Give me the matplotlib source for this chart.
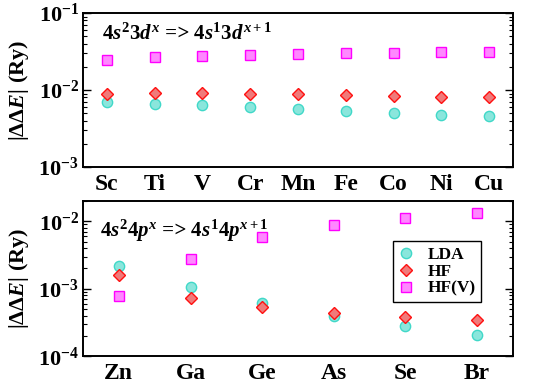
import matplotlib
matplotlib.use("Agg")
import matplotlib.pyplot as plt
from matplotlib.ticker import LogLocator, LogFormatterMathtext, NullFormatter

plt.rcParams['font.family'] = ['Liberation Serif', 'DejaVu Serif']
plt.rcParams['font.weight'] = 'bold'
plt.rcParams['mathtext.fontset'] = 'custom'
plt.rcParams['mathtext.rm'] = 'Liberation Serif:bold'
plt.rcParams['mathtext.bf'] = 'Liberation Serif:bold'
plt.rcParams['mathtext.it'] = 'Liberation Serif:italic:bold'

# 3d transition metals
elements_3d = ["Sc", "Ti", "V", "Cr", "Mn", "Fe", "Co", "Ni", "Cu"]
lda_3d = [0.0069, 0.00664, 0.00632, 0.00595, 0.00566, 0.00533, 0.00502, 0.00473, 0.00455]
hf_3d = [0.00879, 0.00923, 0.0091, 0.00896, 0.0088, 0.0086, 0.00844, 0.0082, 0.0080]
hfv_3d = [0.0243, 0.0266, 0.0279, 0.0285, 0.0296, 0.0303, 0.0303, 0.0309, 0.0312]

# 4p elements
elements_4p = ["Zn", "Ga", "Ge", "As", "Se", "Br"]
lda_4p = [2.16e-3, 1.047e-3, 6.25e-4, 3.9e-4, 2.8e-4, 2.06e-4]
hf_4p = [1.585e-3, 7.26e-4, 5.45e-4, 4.38e-4, 3.78e-4, 3.44e-4]
hfv_4p = [7.9e-4, 2.72e-3, 5.82e-3, 8.8e-3, 1.135e-2, 1.35e-2]

styles = {
    "LDA": dict(marker='o', ms=7.4, mfc='#8ae6dc', mec='#40d8c8', mew=1.0),
    "HF": dict(marker='D', ms=6.6, mfc='#f07a7a', mec='#ff1010', mew=1.0),
    "HF(V)": dict(marker='s', ms=6.8, mfc='#ff88ff', mec='#ff00ff', mew=1.0),
}

fig = plt.figure(figsize=(5.34, 3.88), dpi=100)
ax1 = fig.add_axes([83 / 534, 1 - 167 / 388, 430 / 534, 154 / 388])
ax2 = fig.add_axes([83 / 534, 1 - 356.3 / 388, 430 / 534, 155.3 / 388])


def style_axis(ax, labels, ylim):
    x = list(range(1, len(labels) + 1))
    ax.set_yscale('log')
    ax.set_ylim(*ylim)
    ax.set_xlim(0.5, len(labels) + 0.5)
    ax.set_xticks(x)
    ax.set_xticklabels(labels, fontsize=17, fontweight='bold')
    ax.tick_params(axis='x', length=0, pad=5)
    ax.yaxis.set_major_locator(LogLocator(base=10))
    ax.yaxis.set_major_formatter(LogFormatterMathtext())
    ax.yaxis.set_minor_locator(LogLocator(base=10, subs=range(2, 10)))
    ax.yaxis.set_minor_formatter(NullFormatter())
    ax.tick_params(axis='y', which='major', direction='in', length=6, width=1.0,
                   left=True, right=True, labelsize=16, pad=3)
    ax.tick_params(axis='y', which='minor', direction='in', length=3, width=0.8,
                   left=True, right=True)
    for s in ax.spines.values():
        s.set_linewidth(1.4)
    ax.set_ylabel(r'|ΔΔ$\mathit{E}$| (Ry)', fontsize=16, fontweight='bold')
    ax.yaxis.set_label_coords(-0.122, 0.5)
    return x


x1 = style_axis(ax1, elements_3d, (1e-3, 1e-1))
ax1.plot(x1, lda_3d, ls='none', label='LDA', **styles["LDA"])
ax1.plot(x1, hf_3d, ls='none', label='HF', **styles["HF"])
ax1.plot(x1, hfv_3d, ls='none', label='HF(V)', **styles["HF(V)"])
ax1.text(0.045, 0.825, r'$\mathit{4s^{2}3d^{x}}$ => $\mathit{4s^{1}3d^{x+1}}$',
         transform=ax1.transAxes, fontsize=15, fontstyle='italic', fontweight='bold',
         va='baseline', ha='left')

x2 = style_axis(ax2, elements_4p, (1e-4, 2e-2))
ax2.plot(x2, lda_4p, ls='none', label='LDA', **styles["LDA"])
ax2.plot(x2, hf_4p, ls='none', label='HF', **styles["HF"])
ax2.plot(x2, hfv_4p, ls='none', label='HF(V)', **styles["HF(V)"])
ax2.text(0.04, 0.772, r'$\mathit{4s^{2}4p^{x}}$ => $\mathit{4s^{1}4p^{x+1}}$',
         transform=ax2.transAxes, fontsize=15, fontstyle='italic', fontweight='bold',
         va='baseline', ha='left')

leg = ax2.legend(loc='upper left', bbox_to_anchor=(0.72, 0.74), fancybox=False,
                 edgecolor='black', framealpha=1, handlelength=1.0,
                 handletextpad=0.7, borderpad=0.3, labelspacing=0.05,
                 borderaxespad=0.0, prop={'weight': 'bold', 'size': 12.5})
leg.get_frame().set_linewidth(1.0)

fig.savefig('out.png', dpi=100)
